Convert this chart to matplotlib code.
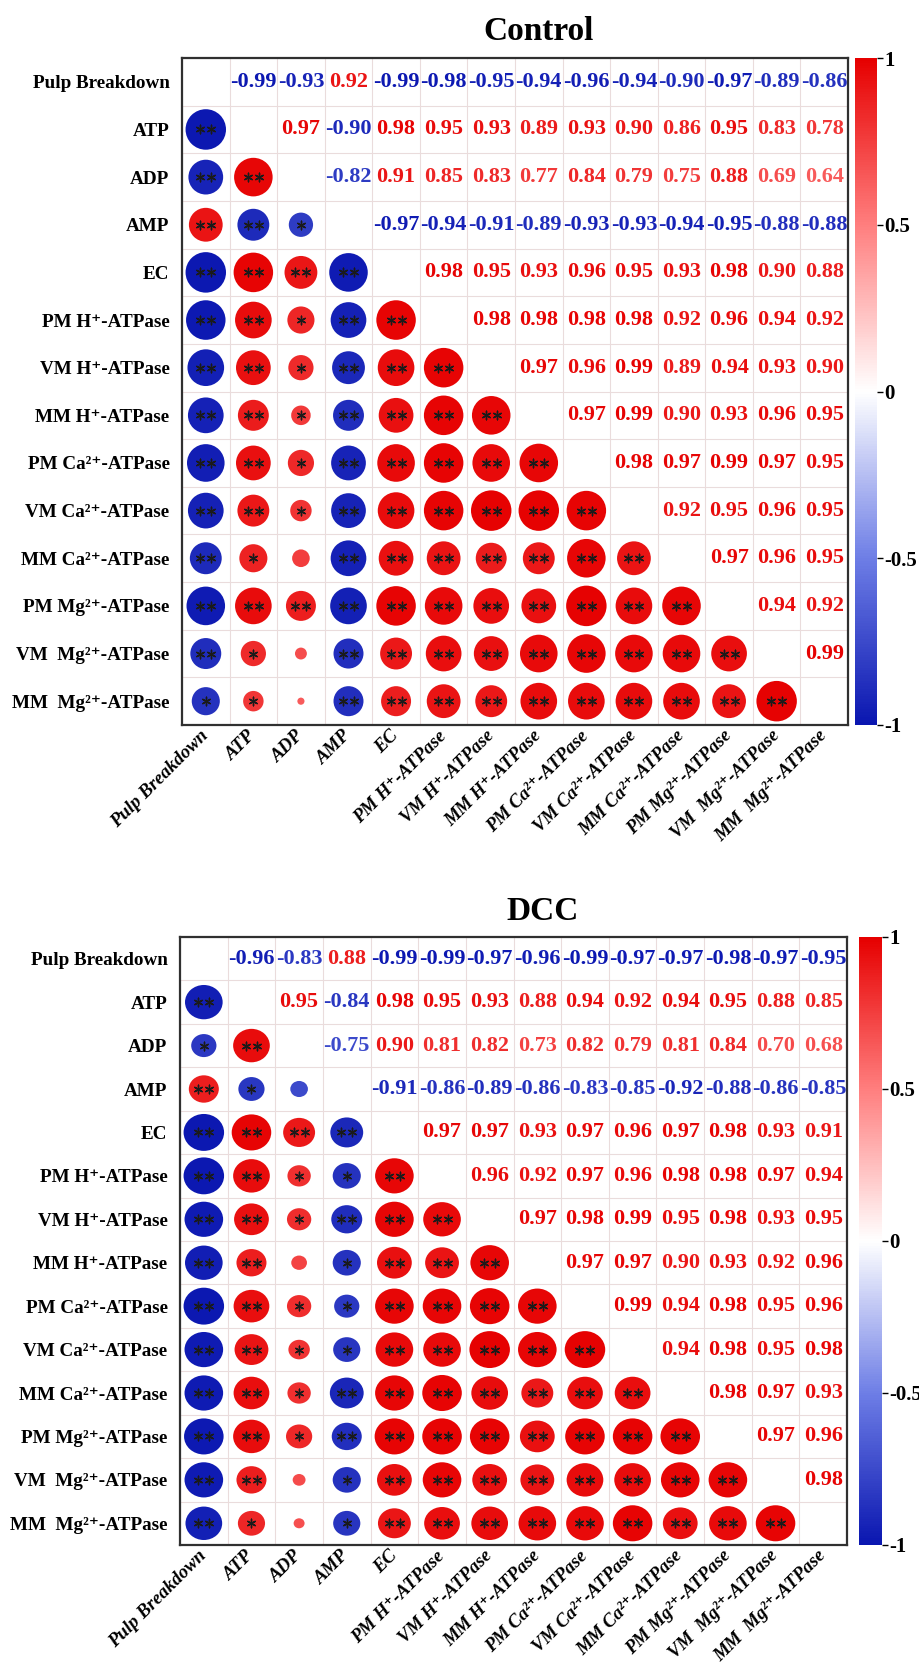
import matplotlib
matplotlib.use("Agg")
import matplotlib.pyplot as plt
import numpy as np
from matplotlib import cm
from matplotlib.colors import LinearSegmentedColormap, Normalize
from matplotlib.patches import Ellipse

plt.rcParams["font.family"] = ["Liberation Serif", "DejaVu Serif"]
plt.rcParams["font.weight"] = "bold"

LABELS = [
    "Pulp Breakdown", "ATP", "ADP", "AMP", "EC",
    "PM H\u207a-ATPase", "VM H\u207a-ATPase", "MM H\u207a-ATPase",
    "PM Ca\u00b2\u207a-ATPase", "VM Ca\u00b2\u207a-ATPase", "MM Ca\u00b2\u207a-ATPase",
    "PM Mg\u00b2\u207a-ATPase", "VM  Mg\u00b2\u207a-ATPase", "MM  Mg\u00b2\u207a-ATPase",
]

# upper triangle, row i holds r(i, j) for j > i
CONTROL_UPPER = [
    [-0.99, -0.93, 0.92, -0.99, -0.98, -0.95, -0.94, -0.96, -0.94, -0.90, -0.97, -0.89, -0.86],
    [0.97, -0.90, 0.98, 0.95, 0.93, 0.89, 0.93, 0.90, 0.86, 0.95, 0.83, 0.78],
    [-0.82, 0.91, 0.85, 0.83, 0.77, 0.84, 0.79, 0.75, 0.88, 0.69, 0.64],
    [-0.97, -0.94, -0.91, -0.89, -0.93, -0.93, -0.94, -0.95, -0.88, -0.88],
    [0.98, 0.95, 0.93, 0.96, 0.95, 0.93, 0.98, 0.90, 0.88],
    [0.98, 0.98, 0.98, 0.98, 0.92, 0.96, 0.94, 0.92],
    [0.97, 0.96, 0.99, 0.89, 0.94, 0.93, 0.90],
    [0.97, 0.99, 0.90, 0.93, 0.96, 0.95],
    [0.98, 0.97, 0.99, 0.97, 0.95],
    [0.92, 0.95, 0.96, 0.95],
    [0.97, 0.96, 0.95],
    [0.94, 0.92],
    [0.99],
]

DCC_UPPER = [
    [-0.96, -0.83, 0.88, -0.99, -0.99, -0.97, -0.96, -0.99, -0.97, -0.97, -0.98, -0.97, -0.95],
    [0.95, -0.84, 0.98, 0.95, 0.93, 0.88, 0.94, 0.92, 0.94, 0.95, 0.88, 0.85],
    [-0.75, 0.90, 0.81, 0.82, 0.73, 0.82, 0.79, 0.81, 0.84, 0.70, 0.68],
    [-0.91, -0.86, -0.89, -0.86, -0.83, -0.85, -0.92, -0.88, -0.86, -0.85],
    [0.97, 0.97, 0.93, 0.97, 0.96, 0.97, 0.98, 0.93, 0.91],
    [0.96, 0.92, 0.97, 0.96, 0.98, 0.98, 0.97, 0.94],
    [0.97, 0.98, 0.99, 0.95, 0.98, 0.93, 0.95],
    [0.97, 0.97, 0.90, 0.93, 0.92, 0.96],
    [0.99, 0.94, 0.98, 0.95, 0.96],
    [0.94, 0.98, 0.95, 0.98],
    [0.98, 0.97, 0.93],
    [0.97, 0.96],
    [0.98],
]

CBAR_TICKS = [-1, -0.5, 0, 0.5, 1]
CBAR_LABELS = ["-1", "-0.5", "0", "0.5", "1"]

CMAP = LinearSegmentedColormap.from_list(
    "bwr_corr",
    [(0.0, "#0A16B0"), (0.25, "#6E7EE6"), (0.5, "#FFFFFF"), (0.75, "#FF7E7E"), (1.0, "#E60000")],
)
NORM = Normalize(-1, 1)


def build_matrix(upper):
    n = len(upper) + 1
    m = np.eye(n)
    for i, row in enumerate(upper):
        for k, v in enumerate(row):
            j = i + 1 + k
            m[i, j] = v
            m[j, i] = v
    return m


def n_stars(r):
    a = abs(r)
    if a >= 0.87:
        return 2
    if a >= 0.755:
        return 1
    return 0


def draw_panel(fig, rect, cbar_rect, title, title_xy, upper):
    m = build_matrix(upper)
    n = m.shape[0]
    ax = fig.add_axes(rect)
    ax.set_xlim(-0.5, n - 0.5)
    ax.set_ylim(n - 0.5, -0.5)

    for k in range(n + 1):
        ax.axhline(k - 0.5, color="#EADCDC", lw=0.8, zorder=0)
        ax.axvline(k - 0.5, color="#EADCDC", lw=0.8, zorder=0)

    for i in range(n):
        for j in range(n):
            if i == j:
                continue
            r = m[i, j]
            color = CMAP(NORM(r))
            if j > i:
                ax.text(j, i, f"{r:.2f}", ha="center", va="center",
                        fontsize=16, fontweight="bold", color=color, zorder=3)
            else:
                d = float(np.clip(2.0 * (abs(r) - 0.565), 0.1, 0.95))
                ax.add_patch(Ellipse((j, i), d, d, facecolor=color,
                                     edgecolor="none", zorder=2))
                s = n_stars(r)
                if s == 2:
                    xs = [j - 0.115, j + 0.115]
                elif s == 1:
                    xs = [j]
                else:
                    xs = []
                if xs:
                    ax.scatter(xs, [i] * len(xs), marker=(6, 2, 0), s=38,
                               linewidths=1.0, color="#1a1a1a", zorder=4)

    ax.set_xticks(range(n))
    ax.set_yticks(range(n))
    ax.set_yticklabels(LABELS, fontsize=13.8, fontweight="bold")
    ax.set_xticklabels(LABELS, fontsize=13.5, fontweight="bold", fontstyle="italic",
                       rotation=45, ha="right", va="center", rotation_mode="anchor")
    ax.tick_params(axis="y", length=0, pad=9)
    ax.tick_params(axis="x", length=0, pad=6)
    for sp in ax.spines.values():
        sp.set_color("#303030")
        sp.set_linewidth(1.6)

    cax = fig.add_axes(cbar_rect)
    cb = fig.colorbar(cm.ScalarMappable(norm=NORM, cmap=CMAP), cax=cax, ticks=CBAR_TICKS)
    cb.outline.set_visible(False)
    cax.set_yticklabels(CBAR_LABELS)
    cax.tick_params(length=4, width=1, labelsize=15, pad=1)
    for t in cax.get_yticklabels():
        t.set_fontweight("bold")

    fig.text(title_xy[0], title_xy[1], title, ha="center", va="center",
             fontsize=24, fontweight="bold")


def main():
    fig = plt.figure(figsize=(9.19, 16.73), dpi=100)
    W, H = 919, 1673

    def frac(x0, x1, y0, y1):
        return [x0 / W, 1 - y1 / H, (x1 - x0) / W, (y1 - y0) / H]

    draw_panel(fig, frac(182, 848, 58, 725), frac(855, 877, 58, 725),
               "Control", (539 / W, 1 - 32 / H), CONTROL_UPPER)
    draw_panel(fig, frac(180, 847, 937, 1545), frac(859, 882, 937, 1545),
               "DCC", (543 / W, 1 - 912 / H), DCC_UPPER)

    fig.savefig("out.png", dpi=100, facecolor="white")


if __name__ == "__main__":
    main()
